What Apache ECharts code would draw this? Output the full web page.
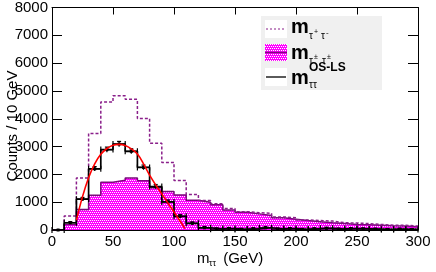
<!DOCTYPE html>
<html><head><meta charset="utf-8">
<script src="https://cdn.jsdelivr.net/npm/echarts@6/dist/echarts.min.js"></script>
<style>html,body{margin:0;padding:0;background:#fff}#c{width:436px;height:272px}</style>
</head><body><div id="c"></div>
<script>
// bin edges (GeV), 10 GeV bins
const edges = [0,10,20,30,40,50,60,70,80,90,100,110,120,130,140,150,160,170,180,190,200,210,220,230,240,250,260,270,280,290,300];
// opposite-sign m(tau+ tau-)
const osCounts = [0,500,1870,3470,4600,4830,4700,4010,3120,2430,1780,1280,1060,940,770,660,620,600,470,440,360,340,320,260,250,230,200,170,170,140];
// like-sign m(tau+- tau+-)
const lsCounts = [0,200,740,1250,1720,1790,1870,1770,1520,1380,1260,1070,1000,910,720,640,580,520,440,390,340,300,260,230,200,190,170,150,140,120];
// OS - LS
const diffCounts = [0,260,1110,2200,2890,3090,2830,2250,1560,1010,490,240,80,30,50,20,40,80,30,50,20,40,60,30,50,40,30,20,30,20];
const diffErrors = [0,40,60,80,90,95,90,85,75,70,60,50,45,40,40,40,40,40,35,35,35,35,35,30,30,30,30,30,30,30];
// fitted curve
const fitX = [20,25,30,35,40,45,50,55,60,65,70,75,80,85,90,95,100,105,109];
const fitY = [350,1200,1880,2380,2720,2930,3050,3080,3040,2920,2730,2380,1970,1620,1300,970,650,320,50];
// tick labels
const xTicks = ['0','50','100','150','200','250','300'];
const yTicks = ['0','1000','2000','3000','4000','5000','6000','7000','8000'];

function stepData(vals){
  const d = vals.map((v,i)=>[edges[i], v]);
  d.push([edges[edges.length-1], vals[vals.length-1]]);
  return d;
}
// hatch pattern (magenta with white dots)
const pc = document.createElement('canvas'); pc.width = 4; pc.height = 4;
const px = pc.getContext('2d');
px.fillStyle = '#ff00ff'; px.fillRect(0,0,4,4);
px.fillStyle = '#ffffff';
px.fillRect(0,0,1,1); px.fillRect(2,0,1,1); px.fillRect(1,2,1,1); px.fillRect(3,2,1,1);
const pattern = {image: pc, repeat: 'repeat'};

const FONT = '"Liberation Sans", Arial, Helvetica, sans-serif';
const chart = echarts.init(document.getElementById('c'), null, {renderer:'canvas'});
const errData = diffCounts.map((v,i)=>[edges[i], edges[i+1], v, diffErrors[i]]);

const axisCommon = {type:'value', splitLine:{show:false}, minorTick:{show:false}};
function txt(x, y, text, size, bold){
  return {type:'text', x:x, y:y, z:100, style:{text:text, fontSize:size, fontWeight:bold?'bold':'normal', fontFamily:FONT, fill:'#000', align:'left', verticalAlign:'top'}};
}
chart.setOption({
  animation:false,
  backgroundColor:'#fff',
  grid:{left:52, right:18, top:4, bottom:42},
  xAxis:[
    Object.assign({}, axisCommon, {min:0, max:300, interval:50, position:'bottom',
      axisLine:{show:true, onZero:false, lineStyle:{color:'#000', width:1}},
      axisTick:{inside:true, length:7, lineStyle:{color:'#000'}},
      axisLabel:{fontSize:15, color:'#000', fontFamily:FONT, margin:4,
        formatter:(v)=>xTicks[xTicks.indexOf(String(v))] || ''}}),
    Object.assign({}, axisCommon, {min:0, max:300, interval:50, position:'top',
      axisLine:{show:true, onZero:false, lineStyle:{color:'#000', width:1}},
      axisTick:{inside:true, length:7, lineStyle:{color:'#000'}},
      axisLabel:{show:false}})
  ],
  yAxis:[
    Object.assign({}, axisCommon, {min:0, max:8000, interval:1000, position:'left',
      axisLine:{show:true, onZero:false, lineStyle:{color:'#000', width:1}},
      axisTick:{show:true, inside:true, length:10, lineStyle:{color:'#000'}},
      axisLabel:{fontSize:15, color:'#000', fontFamily:FONT, margin:4,
        formatter:(v)=>yTicks[yTicks.indexOf(String(v))] || ''}}),
    Object.assign({}, axisCommon, {min:0, max:8000, interval:1000, position:'right',
      axisLine:{show:true, onZero:false, lineStyle:{color:'#000', width:1}},
      axisTick:{show:true, inside:true, length:10, lineStyle:{color:'#000'}},
      axisLabel:{show:false}})
  ],
  series:[
    {type:'line', step:'end', data:stepData(lsCounts), symbol:'none', z:2,
      lineStyle:{color:'#7a0a7a', width:1.5},
      areaStyle:{color:pattern, opacity:1, origin:'start'}},
    {type:'line', step:'end', data:stepData(osCounts), symbol:'none', z:3,
      lineStyle:{color:'#8a1f8a', width:1.5, type:[3,2]}},
    {type:'line', step:'end', data:stepData(diffCounts), symbol:'none', z:4,
      lineStyle:{color:'#000', width:1.7}},
    {type:'custom', z:5, data:errData, renderItem:function(params, api){
      const lo = api.value(0), hi = api.value(1), v = api.value(2), e = api.value(3);
      const mid = (lo+hi)/2;
      const pL = api.coord([lo, v]), pR = api.coord([hi, v]);
      const pc2 = api.coord([mid, v]);
      const pt = api.coord([mid, v+e]), pb = api.coord([mid, Math.max(0, v-e)]);
      const st = {stroke:'#000', lineWidth:1.2};
      return {type:'group', children:[
        {type:'line', shape:{x1:pL[0], y1:pL[1], x2:pR[0], y2:pR[1]}, style:st},
        {type:'line', shape:{x1:pL[0], y1:pL[1]-3, x2:pL[0], y2:pL[1]+3}, style:st},
        {type:'line', shape:{x1:pR[0], y1:pR[1]-3, x2:pR[0], y2:pR[1]+3}, style:st},
        {type:'line', shape:{x1:pt[0], y1:pt[1], x2:pb[0], y2:pb[1]}, style:st},
        {type:'line', shape:{x1:pt[0]-2, y1:pt[1], x2:pt[0]+2, y2:pt[1]}, style:st},
        {type:'rect', shape:{x:pc2[0]-1.5, y:pc2[1]-1.5, width:3, height:3}, style:{fill:'#000'}}
      ]};
    }},
    {type:'line', data:fitX.map((x,i)=>[x, fitY[i]]), smooth:0.4, symbol:'none', z:6,
      lineStyle:{color:'#ff0000', width:1.6}}
  ],
  graphic:[
    {type:'text', x:13, y:126, rotation:Math.PI/2, z:100,
      style:{text:'Counts / 10 GeV', fontSize:15, fontFamily:FONT, fill:'#000', align:'center', verticalAlign:'middle'}},
    txt(197, 251, 'm', 15),
    txt(209, 259, 'ττ', 9),
    txt(219, 251, ' (GeV)', 15),
    // legend
    {type:'rect', z:90, shape:{x:261, y:16, width:121, height:74}, style:{fill:'#f0f0f0'}},
    {type:'rect', z:91, shape:{x:265, y:20, width:22, height:18}, style:{fill:'#fff'}},
    {type:'line', z:92, shape:{x1:266, y1:29, x2:286, y2:29}, style:{stroke:'#8a1f8a', lineWidth:1.2, lineDash:[2,2]}},
    txt(291, 17, 'm', 20, true),
    txt(309, 31, 'τ', 10), txt(314, 29, '+', 7), txt(321, 31, 'τ', 10), txt(326, 29, '-', 8),
    {type:'rect', z:91, shape:{x:265, y:44, width:22, height:17}, style:{fill:pattern}},
    {type:'line', z:92, shape:{x1:265, y1:52.5, x2:287, y2:52.5}, style:{stroke:'#7a0a7a', lineWidth:1.5}},
    txt(291, 43, 'm', 20, true),
    txt(309, 56, 'τ', 10), txt(314, 54, '±', 7), txt(322, 56, 'τ', 10), txt(327, 54, '±', 7),
    {type:'rect', z:91, shape:{x:265, y:68, width:22, height:18}, style:{fill:'#fff'}},
    {type:'line', z:92, shape:{x1:266, y1:77, x2:286, y2:77}, style:{stroke:'#000', lineWidth:1.3}},
    txt(291, 68, 'm', 20, true),
    txt(309, 62, 'OS-LS', 12, true),
    txt(309, 80, 'ττ', 10)
  ]
});
</script></body></html>
